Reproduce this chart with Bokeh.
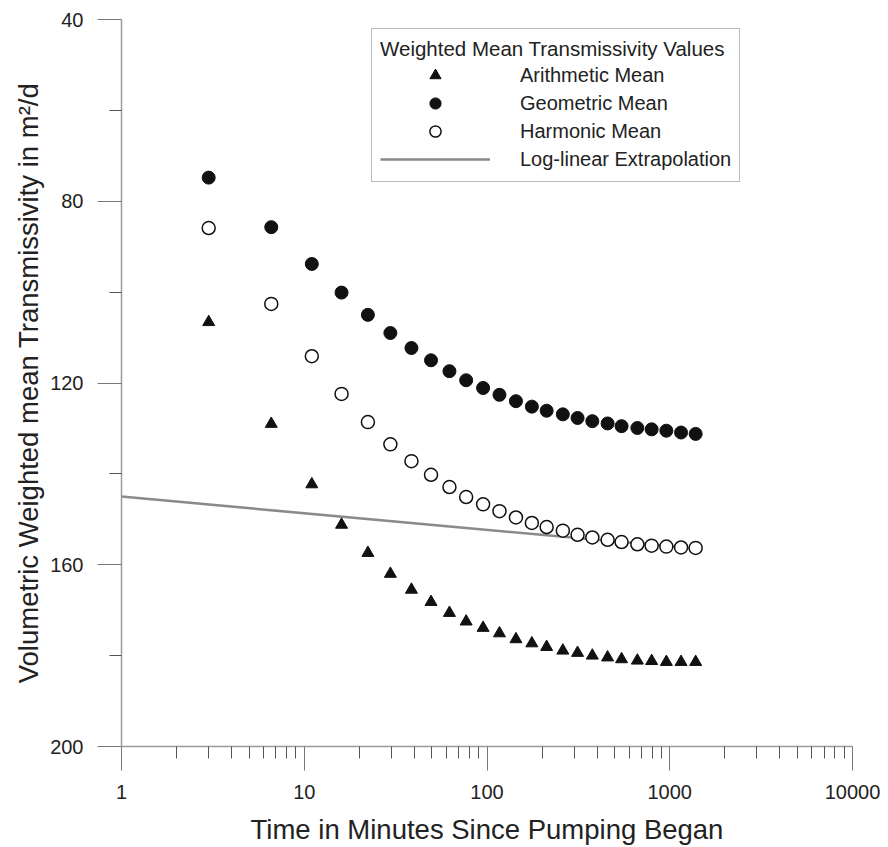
from bokeh.plotting import figure
from bokeh.models import Range1d, FixedTicker, Legend, LegendItem
from bokeh.embed import file_html
from bokeh.resources import INLINE

# ---- data ----
time_min = [3, 6.6, 11, 16, 22.3, 29.6, 38.6, 49.4, 62.3, 76.9, 95.2, 117, 144,
            176, 212, 260, 313, 377, 457, 545, 665, 796, 958, 1153, 1386]
geometric = [74.8, 85.7, 93.8, 100.1, 105.0, 109.0, 112.3, 115.0, 117.4, 119.4,
             121.1, 122.6, 124.0, 125.2, 126.1, 126.9, 127.7, 128.4, 128.9, 129.5,
             129.9, 130.2, 130.5, 130.9, 131.2]
harmonic = [85.9, 102.6, 114.1, 122.4, 128.6, 133.5, 137.2, 140.2, 142.9, 145.1,
            146.7, 148.2, 149.6, 150.8, 151.7, 152.5, 153.4, 154.0, 154.5, 155.0,
            155.5, 155.8, 156.0, 156.2, 156.3]
arithmetic = [106.6, 129.0, 142.3, 151.2, 157.4, 162.0, 165.5, 168.2, 170.6, 172.5,
              173.9, 175.1, 176.4, 177.3, 178.1, 178.9, 179.4, 180.0, 180.4, 180.8,
              181.1, 181.2, 181.4, 181.4, 181.4]
extrap_x = [1, 1400]
extrap_y = [145.0, 156.5]

x_ticks = [1, 10, 100, 1000, 10000]
x_tick_labels = ["1", "10", "100", "1000", "10000"]
x_minor = [m * d for d in [1, 10, 100, 1000] for m in range(2, 10)]
y_ticks = [40, 80, 120, 160, 200]
y_minor = [60, 100, 140, 180]

FONT = "Liberation Sans"
AXIS_GRAY = "#9a9a9a"
TICK_GRAY = "#777777"

p = figure(width=888, height=847, x_axis_type="log",
           x_range=Range1d(1, 10000), y_range=Range1d(200, 40),
           output_backend="svg", toolbar_location=None,
           min_border_left=121, min_border_right=36,
           min_border_top=19, min_border_bottom=101)
p.outline_line_color = None
p.grid.visible = False
p.background_fill_color = "white"
p.border_fill_color = "white"

# x axis
xa = p.xaxis[0]
xa.ticker = FixedTicker(ticks=x_ticks, minor_ticks=x_minor)
xa.major_label_overrides = {t: l for t, l in zip(x_ticks, x_tick_labels)}
xa.axis_label = "Time in Minutes Since Pumping Began"
# y axis
ya = p.yaxis[0]
ya.ticker = FixedTicker(ticks=y_ticks, minor_ticks=y_minor)
ya.axis_label = "Volumetric Weighted mean Transmissivity in m\u00b2/d"

for ax in (xa, ya):
    ax.axis_line_color = AXIS_GRAY
    ax.axis_line_width = 1.5
    ax.major_tick_line_color = TICK_GRAY
    ax.minor_tick_line_color = "#555555"
    ax.major_tick_in = 0
    ax.minor_tick_in = 0
    ax.major_tick_out = 24
    ax.minor_tick_out = 12
    ax.major_label_text_font = FONT
    ax.major_label_text_font_size = "20px"
    ax.major_label_text_color = "#222222"
    ax.axis_label_text_font = FONT
    ax.axis_label_text_font_size = "27.5px"
    ax.axis_label_text_font_style = "normal"
    ax.axis_label_text_color = "#222222"
xa.major_label_standoff = 14
xa.axis_label_standoff = 12
ya.major_label_standoff = 14
ya.axis_label_standoff = 3

# data
r_ext = p.line(extrap_x, extrap_y, line_color="#8a8a8a", line_width=2.5)
r_ari = p.scatter(time_min, arithmetic, marker="triangle", size=12,
                  fill_color="#111111", line_color="#111111")
r_geo = p.scatter(time_min, geometric, marker="circle", size=13,
                  fill_color="#111111", line_color="#111111")
r_har = p.scatter(time_min, harmonic, marker="circle", size=13,
                  fill_color="white", line_color="#111111", line_width=1.5)

legend = Legend(
    title="Weighted Mean Transmissivity Values",
    items=[LegendItem(label="Arithmetic Mean", renderers=[r_ari]),
           LegendItem(label="Geometric Mean", renderers=[r_geo]),
           LegendItem(label="Harmonic Mean", renderers=[r_har]),
           LegendItem(label="Log-linear Extrapolation", renderers=[r_ext])],
    location=(250, 564),
    title_text_font=FONT, title_text_font_size="20.5px",
    title_text_font_style="normal", title_text_color="#222222",
    title_standoff=0,
    label_text_font=FONT, label_text_font_size="20px",
    label_text_color="#222222",
    glyph_width=110, glyph_height=28, label_height=20, label_standoff=30,
    spacing=0, padding=8, margin=0,
    border_line_color="#777777", border_line_width=1.5,
    background_fill_color="white", background_fill_alpha=1.0,
)
p.add_layout(legend)

open("out.html", "w").write(file_html(p, INLINE))
